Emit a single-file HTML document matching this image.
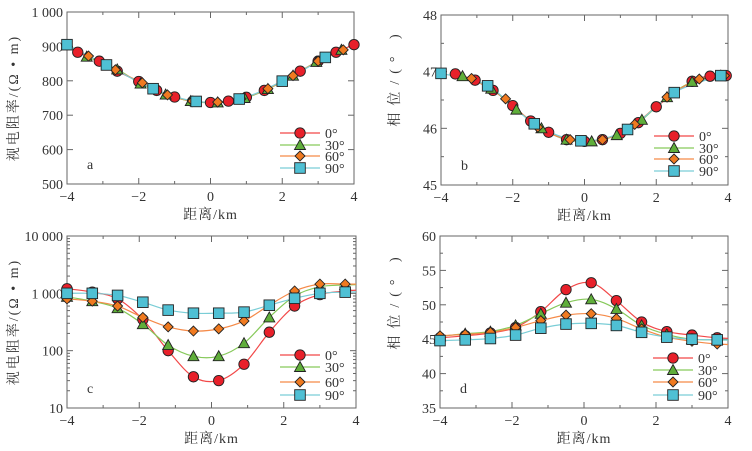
<!DOCTYPE html>
<html><head><meta charset="utf-8">
<style>
body{margin:0;background:#fff;}
svg{display:block;font-family:"Liberation Serif","Noto Serif CJK SC",serif;}
</style></head>
<body>
<svg id="fig" width="752" height="451" viewBox="0 0 752 451" xmlns="http://www.w3.org/2000/svg"></svg>
<script>
// ---------- Panel a (apparent resistivity, linear) ----------
const aX0=[-3.7,-3.1,-2.6,-2.0,-1.5,-1.0,-0.5,0,0.5,1.0,1.5,2.5,3.0,3.5,4.0];
const aY0=[883,857,828,798,772,753,740,737,741,752,772,828,857,883,905];
const aX30=[-3.45,-2.6,-1.95,-1.25,-0.55,0.2,0.95,1.6,2.3,2.95,3.65];
const aY30=[870,833,792,760,741,737,750,776,815,855,890];
const aX60=[-3.4,-2.65,-1.9,-1.2,-0.5,0.2,0.85,1.6,2.3,3.0,3.7];
const aY60=[872,832,794,759,741,738,748,777,815,857,890];
const aX90=[-4,-2.9,-1.6,-0.4,0.8,2.0,3.2];
const aY90=[905,846,777,740,747,799,868];
const aYTicks=[500,600,700,800,900,1000];
const aYLabels=["500","600","700","800","900","1 000"];
// ---------- Panel b (phase) ----------
const bX0=[-3.6,-3.05,-2.55,-2.0,-1.5,-1.0,-0.5,0,0.5,1.0,1.5,2.0,3.0,3.5,3.95];
const bY0=[46.96,46.85,46.67,46.4,46.13,45.93,45.8,45.77,45.8,45.91,46.1,46.38,46.83,46.92,46.93];
const bX30=[-3.4,-2.6,-1.9,-1.2,-0.5,0.2,0.9,1.6,2.3,3.0,3.8];
const bY30=[46.92,46.7,46.33,46.0,45.8,45.77,45.88,46.15,46.55,46.82,46.93];
const bX60=[-3.15,-2.2,-1.3,-0.4,0.5,1.4,2.3,3.2,3.9];
const bY60=[46.88,46.52,46.02,45.8,45.8,46.07,46.55,46.87,46.93];
const bX90=[-4,-2.7,-1.4,-0.1,1.2,2.5,3.8];
const bY90=[46.97,46.75,46.08,45.78,45.98,46.63,46.93];
const bYTicks=[45,46,47,48];
const bYLabels=["45","46","47","48"];
// ---------- Panel c (apparent resistivity, log) ----------
const cX=[-4,-3.3,-2.6,-1.9,-1.2,-0.5,0.2,0.9,1.6,2.3,3.0,3.7];
const cY0=[1200,1050,800,350,100,35,30,58,210,600,950,1100];
const cY30=[870,730,550,290,125,80,80,135,380,900,1300,1400];
const cY60=[800,730,600,380,260,220,240,330,620,1100,1450,1450];
const cY90=[1000,1000,920,700,510,450,450,470,620,820,1000,1050];
const cYTicks=[10,100,1000,10000];
const cYLabels=["10","100","1 000","10 000"];
// ---------- Panel d (phase) ----------
const dY0=[45.2,45.5,45.9,46.7,49.0,52.2,53.2,50.6,47.5,46.1,45.6,45.2];
const dY30=[45.4,45.8,46.1,47.0,48.7,50.3,50.8,49.4,47.0,45.7,45.0,44.9];
const dY60=[45.5,45.7,46.0,46.7,47.7,48.5,48.7,48.0,46.5,45.3,44.7,44.3];
const dY90=[44.8,44.9,45.1,45.6,46.6,47.2,47.3,47.0,46.0,45.3,45.0,44.9];
const dYTicks=[35,40,45,50,55,60];
const dYLabels=["35","40","45","50","55","60"];
const xTicks=[-4,-2,0,2,4];
const xLabels=["\u22124","\u22122","0","2","4"];
const legendLabels=["0°","30°","60°","90°"];

const NS="http://www.w3.org/2000/svg";
const svg=document.getElementById('fig');
function mk(tag,attrs,parent){const e=document.createElementNS(NS,tag);for(const k in attrs)e.setAttribute(k,attrs[k]);(parent||svg).appendChild(e);return e;}
const mcol=["#e8202a","#5fae3a","#f07a20","#4fc0d4"];
const lcol=["#f24848","#86c95a","#f58a48","#7acdd6"];

function smoothPath(pts){
  let d="M"+pts[0][0].toFixed(1)+","+pts[0][1].toFixed(1);
  for(let i=0;i<pts.length-1;i++){
    const p0=pts[Math.max(0,i-1)],p1=pts[i],p2=pts[i+1],p3=pts[Math.min(pts.length-1,i+2)];
    const c1=[p1[0]+(p2[0]-p0[0])/6,p1[1]+(p2[1]-p0[1])/6];
    const c2=[p2[0]-(p3[0]-p1[0])/6,p2[1]-(p3[1]-p1[1])/6];
    d+="C"+c1[0].toFixed(1)+","+c1[1].toFixed(1)+" "+c2[0].toFixed(1)+","+c2[1].toFixed(1)+" "+p2[0].toFixed(1)+","+p2[1].toFixed(1);
  }
  return d;
}
function marker(g,k,x,y){
  const st={fill:mcol[k],stroke:"#222","stroke-width":0.9};
  let e;
  if(k===0){e=mk('circle',Object.assign({cx:x,cy:y,r:5.2},st),g);}
  else if(k===1){e=mk('polygon',Object.assign({points:`${x},${y-5.5} ${x+5.5},${y+4.5} ${x-5.5},${y+4.5}`},st),g);}
  else if(k===2){e=mk('polygon',Object.assign({points:`${x},${y-5} ${x+5},${y} ${x},${y+5} ${x-5},${y}`},st),g);}
  else {e=mk('rect',Object.assign({x:x-5.3,y:y-5.3,width:10.6,height:10.6},st),g);}
  return e;
}
function panel(cfg){
  const g=mk('g',{});
  
  
  const L=cfg.L,R=cfg.R,T=cfg.T,B=cfg.B;
  const sx=v=>L+(v+4)/8*(R-L);
  const sy=cfg.log?(v=>B-(Math.log10(v)-cfg.y0)/(cfg.y1-cfg.y0)*(B-T)):(v=>B-(v-cfg.y0)/(cfg.y1-cfg.y0)*(B-T));
  const frame=mk('rect',{x:L,y:T,width:R-L,height:B-T,fill:"none",stroke:"#666","stroke-width":1},g);
  
  for(let v=-4;v<=4;v+=1){
    const x=sx(v),len=(v%2===0)?6:3;
    mk('line',{x1:x,y1:B,x2:x,y2:B-len,stroke:"#666"},g);
    mk('line',{x1:x,y1:T,x2:x,y2:T+len,stroke:"#666"},g);
  }
  xTicks.forEach((v,i)=>{const t=mk('text',{x:sx(v),y:B+17,"text-anchor":"middle","font-size":14,fill:"#333"},g);t.textContent=xLabels[i];
    });
  if(cfg.log){
    for(let dcd=cfg.y0;dcd<cfg.y1;dcd++){for(let m=1;m<10;m++){const y=sy(m*Math.pow(10,dcd));const len=m===1?6:3;
      mk('line',{x1:L,y1:y,x2:L+len,y2:y,stroke:"#666"},g);mk('line',{x1:R,y1:y,x2:R-len,y2:y,stroke:"#666"},g);}}
  } else {
    const st=cfg.minor;
    for(let v=cfg.y0;v<=cfg.y1+1e-9;v+=st){const y=sy(v);const major=Math.abs((v-cfg.y0)/cfg.major-Math.round((v-cfg.y0)/cfg.major))<1e-6;const len=major?6:3;
      mk('line',{x1:L,y1:y,x2:L+len,y2:y,stroke:"#666"},g);mk('line',{x1:R,y1:y,x2:R-len,y2:y,stroke:"#666"},g);}
  }
  cfg.yt.forEach((v,i)=>{const t=mk('text',{x:L-4,y:sy(v)+5,"text-anchor":"end","font-size":14,fill:"#333"},g);t.textContent=cfg.yl[i];
    });
  const xt=mk('text',{x:(L+R)/2,y:B+35,"text-anchor":"middle","font-size":14,"letter-spacing":1,fill:"#333"},g);xt.textContent="距离/km";
  
  const cy=cfg.tcy;
  const yt=mk('text',{x:cfg.tx,y:cy,"text-anchor":"middle","font-size":14,"letter-spacing":cfg.ls,fill:"#333",transform:`rotate(-90 ${cfg.tx} ${cy})`},g);yt.textContent=cfg.ytitle;
  
  const pl=mk('text',{x:L+20,y:B-15,"font-size":14,fill:"#333"},g);pl.textContent=cfg.letter;
  
  const cid='clip'+cfg.letter;
  const cp=mk('clipPath',{id:cid},g);mk('rect',{x:L,y:T,width:R-L,height:B-T},cp);
  cfg.series.forEach((s,k)=>{
    const pts=s.x.map((xv,i)=>[sx(xv),sy(s.y[i])]);
    if(cfg.extend){const n=pts.length;pts.push([sx(4.3),sy(s.y[n-1])+(pts[n-1][1]-pts[n-2][1])*0.3]);}
    const p=mk('path',{d:smoothPath(pts),fill:"none",stroke:lcol[k],"stroke-width":1.2,"clip-path":`url(#${cid})`},g);
    
    
  });
  cfg.series.forEach((s,k)=>{
    s.x.forEach((xv,i)=>{const m=marker(g,k,sx(xv),sy(s.y[i]));
      
      });
  });
  cfg.leg.forEach((ly,k)=>{
    const lg=mk('g',{},g);
    
    
    mk('line',{x1:L+213,y1:T+ly,x2:L+253,y2:T+ly,stroke:lcol[k],"stroke-width":1.2},lg);
    marker(lg,k,L+233,T+ly);
    const t=mk('text',{x:L+258,y:T+ly+5,"font-size":14,fill:"#333"},lg);t.textContent=legendLabels[k];
  });
}
panel({name:'panel-a',letter:'a',L:67,R:354,T:12,B:184,y0:500,y1:1000,major:100,minor:100,yt:aYTicks,yl:aYLabels,tx:18,tcy:98,ls:2,ytitle:"视电阻率/(Ω • m)",
  series:[{x:aX0,y:aY0},{x:aX30,y:aY30},{x:aX60,y:aY60},{x:aX90,y:aY90}],leg:[121,133,144,156]});
panel({name:'panel-b',letter:'b',L:441,R:728,T:15,B:185,y0:45,y1:48,major:1,minor:0.5,yt:bYTicks,yl:bYLabels,tx:399,tcy:77,ls:7,ytitle:"相位/(° )",
  series:[{x:bX0,y:bY0},{x:bX30,y:bY30},{x:bX60,y:bY60},{x:bX90,y:bY90}],leg:[121,133,144,156]});
panel({name:'panel-c',letter:'c',L:67,R:356,T:236,B:408,log:true,y0:1,y1:4,yt:cYTicks,yl:cYLabels,tx:18,tcy:322,ls:2,ytitle:"视电阻率/(Ω • m)",extend:true,
  series:[{x:cX,y:cY0},{x:cX,y:cY30},{x:cX,y:cY60},{x:cX,y:cY90}],leg:[119,131,146,159]});
panel({name:'panel-d',letter:'d',L:440,R:728,T:236,B:408,y0:35,y1:60,major:5,minor:2.5,yt:dYTicks,yl:dYLabels,tx:399,tcy:300,ls:7,ytitle:"相位/(° )",extend:true,
  series:[{x:cX,y:dY0},{x:cX,y:dY30},{x:cX,y:dY60},{x:cX,y:dY90}],leg:[122,134,146,159]});
</script>
</body></html>
